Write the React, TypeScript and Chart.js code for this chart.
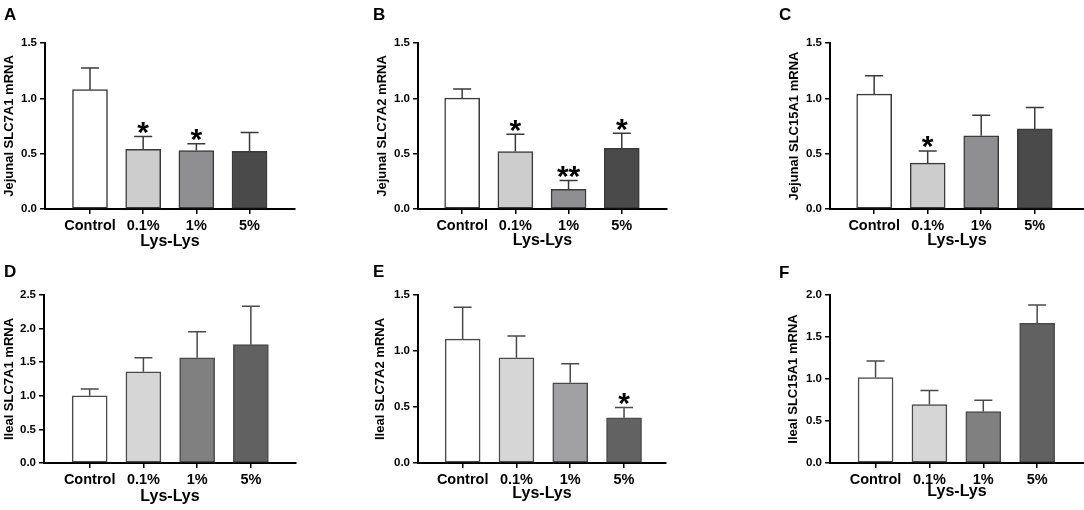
import { useEffect, useRef } from "react"
import { Chart, registerables } from "chart.js"

Chart.register(...registerables)

const FONT = "'Liberation Sans', Arial, Helvetica, sans-serif"
Chart.defaults.font.family = FONT
Chart.defaults.color = "#000"

// groups on the x axis
const groups = ["Control", "0.1%", "1%", "5%"]

// means and SEM
const jejunalSlc7a1 = [1.078, 0.54, 0.528, 0.522]
const jejunalSlc7a1Sem = [0.196, 0.115, 0.061, 0.169]
const jejunalSlc7a1Marks = ["", "*", "*", ""]

const jejunalSlc7a2 = [1.002, 0.519, 0.178, 0.549]
const jejunalSlc7a2Sem = [0.082, 0.157, 0.079, 0.136]
const jejunalSlc7a2Marks = ["", "*", "**", "*"]

const jejunalSlc15a1 = [1.038, 0.414, 0.661, 0.724]
const jejunalSlc15a1Sem = [0.166, 0.111, 0.187, 0.194]
const jejunalSlc15a1Marks = ["", "*", "", ""]

const ilealSlc7a1 = [0.999, 1.357, 1.566, 1.764]
const ilealSlc7a1Sem = [0.104, 0.209, 0.387, 0.567]
const ilealSlc7a1Marks = ["", "", "", ""]

const ilealSlc7a2 = [1.106, 0.939, 0.716, 0.403]
const ilealSlc7a2Sem = [0.284, 0.194, 0.17, 0.092]
const ilealSlc7a2Marks = ["", "", "", "*"]

const ilealSlc15a1 = [1.018, 0.696, 0.612, 1.662]
const ilealSlc15a1Sem = [0.195, 0.167, 0.136, 0.219]
const ilealSlc15a1Marks = ["", "", "", ""]

const jejunalFills = ["#ffffff", "#cdcdcd", "#8f8f91", "#4a4a4a"]
const ilealFills = ["#ffffff", "#d6d6d6", "#808080", "#616161"]

type PanelProps = {
  letter: string
  letterX: number
  letterY: number
  yTitle: string
  means: number[]
  errors: number[]
  marks: string[]
  yMax: number
  fills: string[]
  edge: string
  left: number
  top: number
  width: number
  yAxisWidth: number
  padTop: number
  padRight: number
  xAxisHeight: number
  xMin: number
  xMax: number
  yTitlePad: number
  xTitlePad: number
}

function Panel(p: PanelProps) {
  const canvasRef = useRef<HTMLCanvasElement>(null)
  const chartInstance = useRef<Chart | null>(null)

  useEffect(() => {
    if (!canvasRef.current) return
    if (chartInstance.current) chartInstance.current.destroy()

    // whiskers (upper SEM only) and significance stars
    const errorBars = {
      id: "errorBars",
      afterDatasetsDraw(chart: any) {
        const ctx = chart.ctx
        const yScale = chart.scales.y
        const meta = chart.getDatasetMeta(0)
        ctx.save()
        meta.data.forEach((bar: any, i: number) => {
          const top = yScale.getPixelForValue(p.means[i] + p.errors[i])
          ctx.strokeStyle = p.edge
          ctx.lineWidth = 1.5
          ctx.beginPath()
          ctx.moveTo(bar.x, bar.y)
          ctx.lineTo(bar.x, top)
          ctx.moveTo(bar.x - 9, top)
          ctx.lineTo(bar.x + 9, top)
          ctx.stroke()
          if (p.marks[i]) {
            ctx.fillStyle = "#000"
            ctx.font = `bold 30px ${FONT}`
            ctx.textAlign = "center"
            ctx.textBaseline = "alphabetic"
            ctx.fillText(p.marks[i], bar.x, top + 5.5)
          }
        })
        ctx.restore()
      },
    }

    chartInstance.current = new Chart(canvasRef.current, {
      type: "bar",
      data: {
        datasets: [
          {
            data: p.means.map((v, i) => ({ x: i, y: v })),
            backgroundColor: p.fills,
            borderColor: p.edge,
            borderWidth: 1.5,
            borderSkipped: false,
            barThickness: 35,
          },
        ],
      },
      options: {
        animation: false,
        responsive: true,
        maintainAspectRatio: false,
        layout: { padding: { top: p.padTop, right: p.padRight, bottom: 0, left: 0 } },
        plugins: { legend: { display: false }, tooltip: { enabled: false } },
        scales: {
          x: {
            type: "linear",
            min: p.xMin,
            max: p.xMax,
            bounds: "data",
            offset: false,
            grid: {
              offset: false,
              drawOnChartArea: false,
              drawTicks: true,
              tickLength: 5,
              color: "#000",
              lineWidth: 1.5,
            },
            border: { color: "#000", width: 2 },
            afterBuildTicks: (scale: any) => {
              scale.ticks = groups.map((_, i) => ({ value: i }))
            },
            afterFit: (scale: any) => {
              scale.height = p.xAxisHeight
            },
            ticks: {
              autoSkip: false,
              maxRotation: 0,
              padding: 3,
              font: { size: 14.5, weight: "bold" },
              callback: (v: any) => groups[v] ?? "",
            },
            title: {
              display: true,
              text: "Lys-Lys",
              font: { size: 16, weight: "bold" },
              padding: { top: 0, bottom: p.xTitlePad },
            },
          },
          y: {
            min: 0,
            max: p.yMax,
            grid: {
              drawOnChartArea: false,
              drawTicks: true,
              tickLength: 5,
              color: "#000",
              lineWidth: 1.5,
            },
            border: { color: "#000", width: 2 },
            afterFit: (scale: any) => {
              scale.width = p.yAxisWidth
            },
            ticks: {
              stepSize: 0.5,
              padding: 3,
              font: { size: 11.5, weight: "bold" },
              callback: (v: any) => Number(v).toFixed(1),
            },
            title: {
              display: true,
              text: p.yTitle,
              font: { size: 13, weight: "bold" },
              padding: { top: p.yTitlePad, bottom: 0 },
            },
          },
        },
      },
      plugins: [errorBars],
    } as any)

    return () => {
      if (chartInstance.current) {
        chartInstance.current.destroy()
        chartInstance.current = null
      }
    }
  }, [p])

  return (
    <>
      <div
        style={{
          position: "absolute",
          left: p.left,
          top: p.top,
          width: p.width,
          height: 255,
        }}
      >
        <canvas ref={canvasRef} />
      </div>
      <span
        style={{
          position: "absolute",
          left: p.letterX,
          top: p.letterY,
          font: `bold 17px ${FONT}`,
          lineHeight: "17px",
          color: "#000",
        }}
      >
        {p.letter}
      </span>
    </>
  )
}

const row1 = { top: 0, padTop: 43, xAxisHeight: 46 }
const row2 = { top: 255, padTop: 40, xAxisHeight: 47 }

const panels: PanelProps[] = [
  {
    letter: "A", letterX: 4, letterY: 6, yTitle: "Jejunal SLC7A1 mRNA",
    means: jejunalSlc7a1, errors: jejunalSlc7a1Sem, marks: jejunalSlc7a1Marks,
    yMax: 1.5, fills: jejunalFills, edge: "#3a3a3a",
    left: 0, width: 360, yAxisWidth: 45, padRight: 65, xMin: -0.846, xMax: 3.855,
    yTitlePad: 2, xTitlePad: 4, ...row1,
  },
  {
    letter: "B", letterX: 373, letterY: 6, yTitle: "Jejunal SLC7A2 mRNA",
    means: jejunalSlc7a2, errors: jejunalSlc7a2Sem, marks: jejunalSlc7a2Marks,
    yMax: 1.5, fills: jejunalFills, edge: "#3a3a3a",
    left: 360, width: 360, yAxisWidth: 58, padRight: 53, xMin: -0.83, xMax: 3.85,
    yTitlePad: 15, xTitlePad: 4.5, ...row1,
  },
  {
    letter: "C", letterX: 779, letterY: 6, yTitle: "Jejunal SLC15A1 mRNA",
    means: jejunalSlc15a1, errors: jejunalSlc15a1Sem, marks: jejunalSlc15a1Marks,
    yMax: 1.5, fills: jejunalFills, edge: "#3a3a3a",
    left: 720, width: 364, yAxisWidth: 110, padRight: 0, xMin: -0.825, xMax: 3.92,
    yTitlePad: 67, xTitlePad: 4.5, ...row1,
  },
  {
    letter: "D", letterX: 4, letterY: 263, yTitle: "Ileal SLC7A1 mRNA",
    means: ilealSlc7a1, errors: ilealSlc7a1Sem, marks: ilealSlc7a1Marks,
    yMax: 2.5, fills: ilealFills, edge: "#4a4a4a",
    left: 0, width: 360, yAxisWidth: 44, padRight: 64, xMin: -0.85, xMax: 3.84,
    yTitlePad: 2, xTitlePad: 4, ...row2,
  },
  {
    letter: "E", letterX: 373, letterY: 263, yTitle: "Ileal SLC7A2 mRNA",
    means: ilealSlc7a2, errors: ilealSlc7a2Sem, marks: ilealSlc7a2Marks,
    yMax: 1.5, fills: ["#ffffff", "#d6d6d6", "#a1a1a4", "#626262"], edge: "#4a4a4a",
    left: 360, width: 360, yAxisWidth: 58, padRight: 54, xMin: -0.83, xMax: 3.78,
    yTitlePad: 13, xTitlePad: 7, ...row2,
  },
  {
    letter: "F", letterX: 779, letterY: 264, yTitle: "Ileal SLC15A1 mRNA",
    means: ilealSlc15a1, errors: ilealSlc15a1Sem, marks: ilealSlc15a1Marks,
    yMax: 2.0, fills: ilealFills, edge: "#4a4a4a",
    left: 720, width: 364, yAxisWidth: 110, padRight: 0, xMin: -0.846, xMax: 3.87,
    yTitlePad: 66, xTitlePad: 8.5, ...row2,
  },
]

export default function App() {
  return (
    <div
      style={{
        position: "absolute",
        left: 0,
        top: 0,
        width: 1084,
        height: 510,
        background: "#fff",
        overflow: "hidden",
      }}
    >
      {panels.map((p) => (
        <Panel key={p.letter} {...p} />
      ))}
    </div>
  )
}
